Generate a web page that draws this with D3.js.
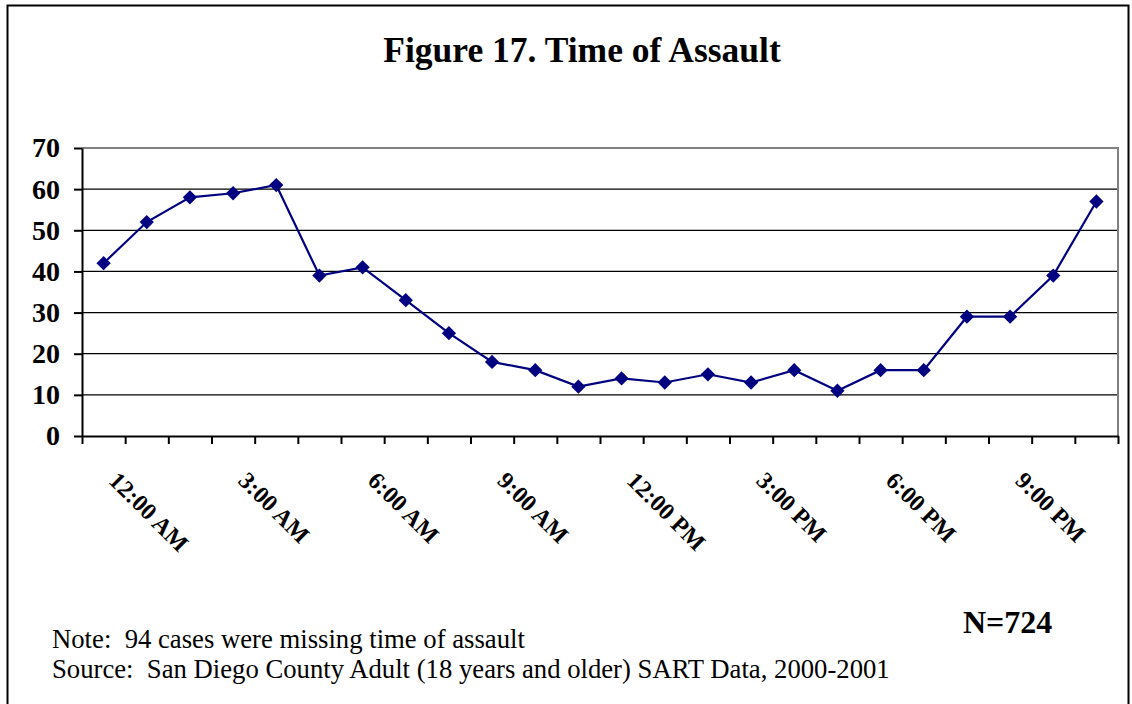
<!DOCTYPE html>
<html>
<head>
<meta charset="utf-8">
<script src="https://cdn.jsdelivr.net/npm/d3@7"></script>
<style>
  body { margin: 0; background: #fff; }
  text { font-family: "Liberation Serif", "Times New Roman", serif; white-space: pre; }
</style>
</head>
<body>
<script>
// hourly counts, 12:00 AM .. 11:00 PM
var hours = ["12:00 AM", "1:00 AM", "2:00 AM", "3:00 AM", "4:00 AM", "5:00 AM",
             "6:00 AM", "7:00 AM", "8:00 AM", "9:00 AM", "10:00 AM", "11:00 AM",
             "12:00 PM", "1:00 PM", "2:00 PM", "3:00 PM", "4:00 PM", "5:00 PM",
             "6:00 PM", "7:00 PM", "8:00 PM", "9:00 PM", "10:00 PM", "11:00 PM"];
var cases = [42, 52, 58, 59, 61, 39, 41, 33, 25, 18, 16, 12,
             14, 13, 15, 13, 16, 11, 16, 16, 29, 29, 39, 57];
var yTicks = [0, 10, 20, 30, 40, 50, 60, 70];

var svgWidth = 1132;
var svgHeight = 704;

var margin = { top: 148, right: 14, bottom: 268, left: 82 };
var width = svgWidth - margin.left - margin.right;
var height = svgHeight - margin.top - margin.bottom;

var svg = d3.select("body")
            .append("svg")
            .attr("width", svgWidth)
            .attr("height", svgHeight);

// outer frame
svg.append("rect")
   .attr("x", 7.5).attr("y", 5.5)
   .attr("width", 1121).attr("height", 760)
   .attr("fill", "none").attr("stroke", "#000").attr("stroke-width", 2);

svg.append("text")
   .attr("x", 582).attr("y", 62)
   .attr("text-anchor", "middle")
   .attr("font-size", 35.5).attr("font-weight", "bold")
   .text("Figure 17. Time of Assault");

var chartGroup = svg.append("g")
                    .attr("transform", `translate(${margin.left}, ${margin.top})`);

var x = d3.scaleLinear().domain([0, hours.length]).range([0, width]);
var y = d3.scaleLinear().domain([0, 70]).range([height, 0]);

// gridlines
chartGroup.selectAll("line.grid")
          .data(yTicks.filter(d => d > 0 && d < 70))
          .enter()
          .append("line")
          .attr("x1", 0).attr("x2", width)
          .attr("y1", d => y(d)).attr("y2", d => y(d))
          .attr("stroke", "#000").attr("stroke-width", 1.2);

// plot border top/right in gray
chartGroup.append("path")
          .attr("d", `M0,${y(70)}H${width}V${height}`)
          .attr("fill", "none").attr("stroke", "#808080").attr("stroke-width", 2);

var bottomAxis = d3.axisBottom(x).tickValues(d3.range(0, hours.length + 1))
                   .tickSize(8).tickSizeOuter(0).tickFormat("");
var leftAxis = d3.axisLeft(y).tickValues(yTicks).tickSize(8).tickSizeOuter(0).tickPadding(14);

var xAxis = chartGroup.append("g")
                      .attr("transform", `translate(0, ${height})`)
                      .call(bottomAxis);
var yAxis = chartGroup.append("g").call(leftAxis);

[xAxis, yAxis].forEach(function(a) {
  a.selectAll("path, line").attr("stroke", "#000").attr("stroke-width", 2);
});
yAxis.selectAll("text")
     .attr("font-size", 28).attr("font-weight", "bold")
     .attr("font-family", "Liberation Serif").attr("fill", "#000");

// rotated hour labels, every third hour
chartGroup.selectAll("text.hour")
          .data(hours.map((h, i) => ({ h: h, i: i })).filter(d => d.i % 3 === 0))
          .enter()
          .append("text")
          .attr("class", "hour")
          .attr("transform", d => `translate(${x(d.i + 0.5) + 4}, ${height + 46}) rotate(45)`)
          .attr("font-size", 24).attr("font-weight", "bold")
          .text(d => d.h);

// line and markers
var line = d3.line()
             .x((d, i) => x(i + 0.5))
             .y(d => y(d));

chartGroup.append("path")
          .datum(cases)
          .attr("d", line)
          .attr("fill", "none")
          .attr("stroke", "#000080")
          .attr("stroke-width", 2.2);

chartGroup.selectAll("path.marker")
          .data(cases)
          .enter()
          .append("path")
          .attr("class", "marker")
          .attr("d", d3.symbol().type(d3.symbolDiamond2).size(130))
          .attr("transform", (d, i) => `translate(${x(i + 0.5)}, ${y(d)})`)
          .attr("fill", "#000080");

svg.append("text")
   .attr("x", 963).attr("y", 633)
   .attr("font-size", 32).attr("font-weight", "bold")
   .text("N=724");

svg.append("text")
   .attr("x", 52).attr("y", 648)
   .attr("font-size", 26.7)
   .text("Note:  94 cases were missing time of assault");

svg.append("text")
   .attr("x", 52).attr("y", 678)
   .attr("font-size", 26.7)
   .text("Source:  San Diego County Adult (18 years and older) SART Data, 2000-2001");
</script>
</body>
</html>
